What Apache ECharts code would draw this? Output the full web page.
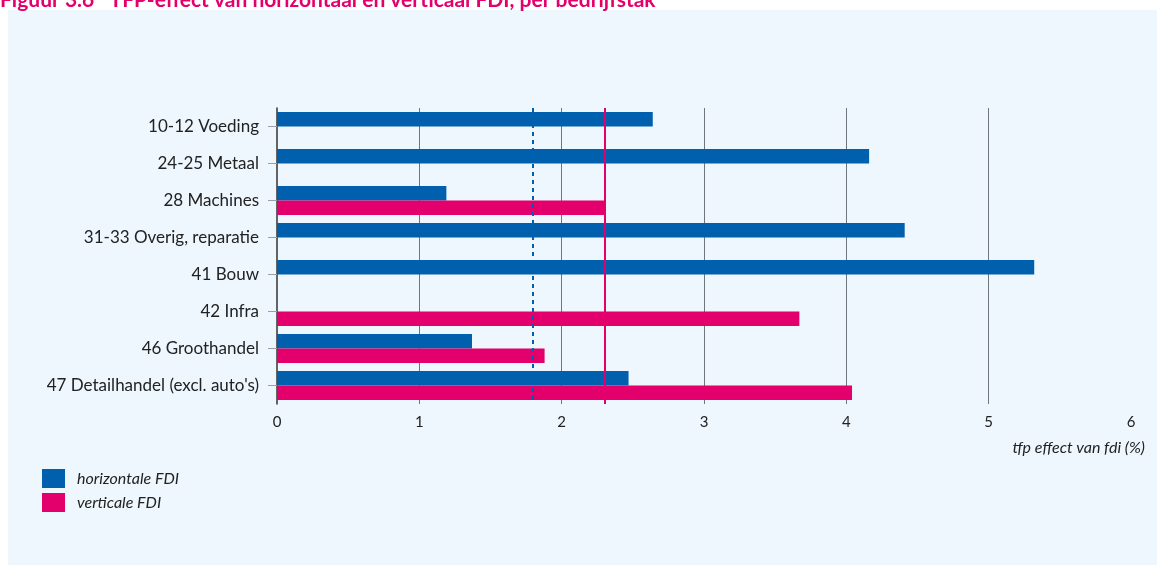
<!DOCTYPE html>
<html>
<head>
<meta charset="utf-8">
<script src="https://cdn.jsdelivr.net/npm/echarts@6/dist/echarts.min.js"></script>
<style>
  html, body { margin: 0; padding: 0; background: #ffffff; }
  #chart { width: 1164px; height: 567px; }
</style>
</head>
<body>
<div id="chart"></div>
<script>
// Sectors (top to bottom)
const categories = [
  '10-12 Voeding',
  '24-25 Metaal',
  '28 Machines',
  '31-33 Overig, reparatie',
  '41 Bouw',
  '42 Infra',
  '46 Groothandel',
  "47 Detailhandel (excl. auto's)"
];
// TFP effect (%) per sector; null = no significant effect
const horizontaal = [2.64, 4.16, 1.19, 4.41, 5.32, null, 1.37, 2.47];
const verticaal   = [null, null, 2.30, null, null, 3.67, 1.88, 4.04];
// Overall averages drawn as reference lines
const gemHorizontaal = 1.80;
const gemVerticaal = 2.30;
// Value axis ticks
const xTicks = [0, 1, 2, 3, 4, 5, 6];

const BLUE = '#0060ad';
const PINK = '#e4006c';
const FONT = 'Lato';

const chart = echarts.init(document.getElementById('chart'), null, { renderer: 'canvas' });

chart.setOption({
  backgroundColor: '#ffffff',
  animation: false,
  textStyle: { fontFamily: FONT },
  graphic: [
    {
      type: 'rect', z: -10, silent: true,
      shape: { x: 8, y: 10, width: 1149, height: 555 },
      style: { fill: '#edf7fd' }
    },
    {
      type: 'text', silent: true,
      x: 0, y: 11,
      style: {
        text: 'Figuur 3.6   TFP-effect van horizontaal en verticaal FDI, per bedrijfstak',
        fill: PINK, font: 'bold 21px ' + FONT, verticalAlign: 'bottom', align: 'left'
      }
    },
    {
      type: 'text', silent: true,
      x: 1145, y: 448,
      style: {
        text: 'tfp effect van fdi (%)',
        fill: '#222', font: 'italic 16px ' + FONT, align: 'right', verticalAlign: 'middle'
      }
    }
  ],
  legend: {
    left: 37, top: 464, orient: 'vertical',
    itemWidth: 23, itemHeight: 19, itemGap: 5,
    icon: 'rect',
    textStyle: { fontFamily: FONT, fontStyle: 'italic', fontSize: 16, color: '#222', padding: [0, 0, 0, 7] },
    data: ['horizontale FDI', 'verticale FDI']
  },
  grid: { left: 277, right: 33, top: 108, bottom: 163, containLabel: false },
  xAxis: {
    type: 'value', min: xTicks[0], max: xTicks[xTicks.length - 1], interval: 1,
    axisLine: { show: false },
    axisTick: { show: false },
    axisLabel: {
      margin: 11, fontSize: 15, color: '#222', fontFamily: FONT,
      formatter: v => xTicks.includes(v) ? (v === 6 ? '{hi|6}' : String(v)) : '',
      rich: { hi: { fontSize: 15, color: '#222', fontFamily: FONT, padding: [0, 0, 8, 0] } }
    },
    splitLine: {
      show: true, showMinLine: false, showMaxLine: false,
      lineStyle: { color: '#6f757b', width: 1 }
    }
  },
  yAxis: {
    type: 'category', inverse: true, data: categories,
    axisLine: { show: true, lineStyle: { color: '#333', width: 1.5 } },
    axisTick: { show: true, alignWithLabel: true, length: 9, lineStyle: { color: '#9aa0a6' } },
    axisLabel: { margin: 18, fontSize: 17, color: '#222', fontFamily: FONT },
    splitLine: { show: false }
  },
  series: [
    {
      name: 'horizontale FDI', type: 'bar', data: horizontaal,
      itemStyle: { color: BLUE },
      barGap: '0%', barCategoryGap: '22%',
      markLine: {
        silent: true, symbol: 'none', label: { show: false },
        lineStyle: { color: BLUE, type: [4, 4], width: 2 },
        data: [{ xAxis: gemHorizontaal }]
      }
    },
    {
      name: 'verticale FDI', type: 'bar', data: verticaal,
      itemStyle: { color: PINK },
      barGap: '0%', barCategoryGap: '22%',
      markLine: {
        silent: true, symbol: 'none', label: { show: false },
        lineStyle: { color: PINK, type: 'solid', width: 2 },
        data: [{ xAxis: gemVerticaal }]
      }
    }
  ]
});
</script>
</body>
</html>
